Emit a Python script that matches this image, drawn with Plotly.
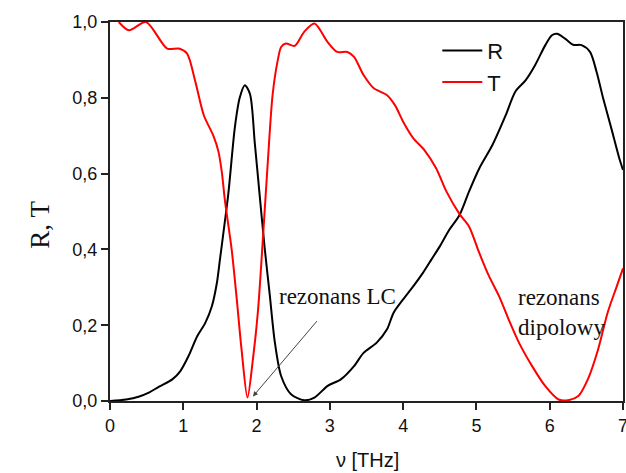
import plotly.graph_objects as go

# Frequency (THz) and values
t_x = [0.12, 0.26, 0.49, 0.78, 0.94, 1.05, 1.165, 1.28, 1.41, 1.48, 1.525, 1.57, 1.66, 1.73, 1.795, 1.876,
       1.95, 2.02, 2.09, 2.155, 2.22, 2.29, 2.335, 2.40, 2.52, 2.65, 2.79, 2.97, 3.10, 3.24, 3.33, 3.46,
       3.60, 3.78, 3.89, 4.00, 4.14, 4.29, 4.45, 4.59, 4.77, 4.90, 5.04, 5.17, 5.31, 5.44, 5.58, 5.76,
       5.94, 6.12, 6.25, 6.39, 6.52, 6.66, 6.79, 6.91, 7.0]
t_y = [1.0, 0.978, 1.0, 0.93, 0.93, 0.917, 0.842, 0.754, 0.70, 0.658, 0.605, 0.526, 0.40, 0.268, 0.136, 0.009,
       0.11, 0.24, 0.44, 0.636, 0.81, 0.90, 0.934, 0.943, 0.937, 0.974, 0.996, 0.947, 0.921, 0.921, 0.908, 0.86,
       0.825, 0.807, 0.78, 0.737, 0.693, 0.662, 0.614, 0.553, 0.493, 0.46, 0.39, 0.33, 0.276, 0.215, 0.154, 0.092,
       0.039, 0.004, 0.002, 0.013, 0.057, 0.136, 0.233, 0.30, 0.35]

r_x = [0.0, 0.22, 0.40, 0.53, 0.67, 0.85, 0.96, 1.07, 1.19, 1.30, 1.39, 1.457, 1.50, 1.547, 1.615, 1.705,
       1.77, 1.84, 1.91, 1.976, 2.04, 2.11, 2.18, 2.25, 2.335, 2.47, 2.65, 2.79, 2.97, 3.15, 3.33, 3.46,
       3.64, 3.78, 3.87, 4.00, 4.14, 4.27, 4.385, 4.50, 4.63, 4.77, 4.90, 5.04, 5.22, 5.40, 5.53, 5.67,
       5.80, 5.94, 6.03, 6.10, 6.21, 6.32, 6.435, 6.55, 6.64, 6.73, 6.84, 6.95, 7.0]
r_y = [0.0, 0.004, 0.012, 0.022, 0.038, 0.057, 0.079, 0.118, 0.171, 0.206, 0.25, 0.31, 0.373, 0.443, 0.548, 0.724,
       0.80, 0.833, 0.81, 0.68, 0.548, 0.405, 0.28, 0.154, 0.066, 0.018, 0.002, 0.009, 0.04, 0.057, 0.092, 0.127,
       0.154, 0.189, 0.233, 0.268, 0.303, 0.338, 0.373, 0.408, 0.452, 0.491, 0.553, 0.614, 0.676, 0.754, 0.816, 0.846,
       0.886, 0.939, 0.965, 0.969, 0.956, 0.94, 0.939, 0.921, 0.868, 0.798, 0.72, 0.64, 0.61]

x_ticks = [0, 1, 2, 3, 4, 5, 6, 7]
y_ticks = [0.0, 0.2, 0.4, 0.6, 0.8, 1.0]

fig = go.Figure()
fig.add_trace(go.Scatter(x=r_x, y=r_y, name="R", mode="lines",
                         line=dict(color="#000000", width=2, shape="spline", smoothing=0.8)))
fig.add_trace(go.Scatter(x=t_x, y=t_y, name="T", mode="lines",
                         line=dict(color="#FF0000", width=2, shape="spline", smoothing=0.8)))

axis_common = dict(showline=True, linecolor="#222222", linewidth=2, mirror=True,
                   ticks="outside", ticklen=7, tickwidth=2, tickcolor="#222222",
                   showgrid=False, zeroline=False,
                   tickfont=dict(family="Liberation Sans, Arial", size=18, color="#111111"))

PW, PH, L, T0 = 518, 380.4, 110, 21.3


def px(xp):
    return (xp - L) / PW


def py(yp):
    return (T0 + PH - yp) / PH


serif = "Liberation Serif, Times New Roman"
fig.update_layout(
    width=640, height=473,
    margin=dict(l=110, r=12, t=21, b=72),
    paper_bgcolor="white", plot_bgcolor="white",
    separators=",.",
    xaxis=dict(range=[0, 7], tickvals=x_ticks, **axis_common),
    yaxis=dict(range=[0, 1.0], tickvals=y_ticks, tickformat=".1f", **axis_common),
    legend=dict(x=0.638, y=0.98, xanchor="left", yanchor="top", bgcolor="rgba(0,0,0,0)",
                font=dict(family="Liberation Sans, Arial", size=22, color="#111111"),
                tracegroupgap=0, itemwidth=40),
    showlegend=True,
    annotations=[
        dict(text="R, T", xref="paper", yref="paper", x=px(39), y=py(225), showarrow=False,
             xanchor="center", yanchor="middle",
             textangle=-90, font=dict(family=serif, size=27, color="#111111")),
        dict(text="ν [THz]", xref="paper", yref="paper", x=px(370), y=py(461), showarrow=False,
             xanchor="center", yanchor="middle",
             font=dict(family="Liberation Sans, Arial", size=20, color="#111111")),
        dict(text="rezonans LC", xref="x", yref="y", x=1.95, y=0.012, ax=85, ay=-100,
             showarrow=True, arrowhead=2, arrowsize=1, arrowwidth=1, arrowcolor="#444444",
             standoff=0, startstandoff=14,
             font=dict(family=serif, size=23, color="#111111")),
        dict(text="rezonans", xref="paper", yref="paper", x=px(563), y=py(298),
             xanchor="center", yanchor="middle",
             showarrow=False, font=dict(family=serif, size=23, color="#111111")),
        dict(text="dipolowy", xref="paper", yref="paper", x=px(566), y=py(328),
             xanchor="center", yanchor="middle",
             showarrow=False, font=dict(family=serif, size=23, color="#111111")),
    ],
)

fig.write_html("out.html",
               post_script="document.body.style.overflow='hidden';document.documentElement.style.overflow='hidden';document.body.style.margin='0';")
